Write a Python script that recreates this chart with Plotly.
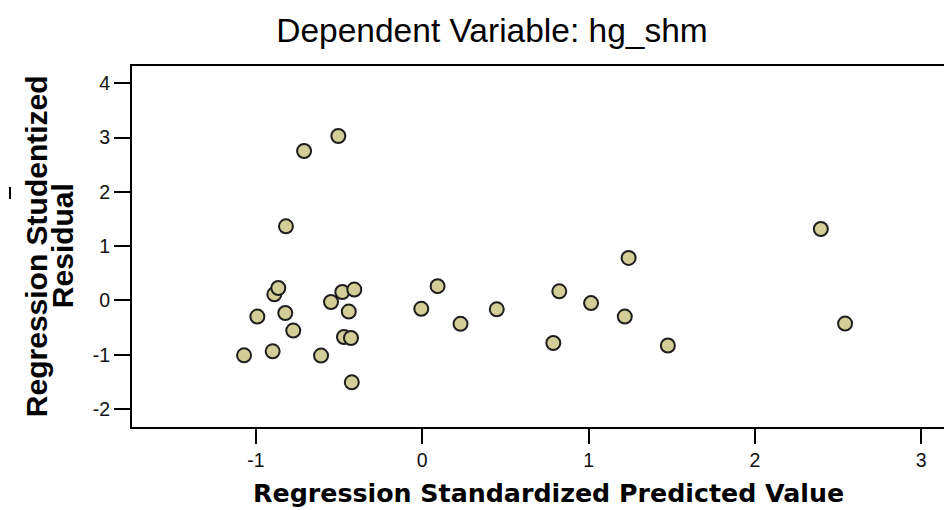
import plotly.graph_objects as go

# Regression standardized predicted values (x) and studentized residuals (y)
pred = [-1.072, -0.992, -0.900, -0.890, -0.866, -0.824, -0.776, -0.820, -0.711, -0.505,
        -0.609, -0.549, -0.481, -0.409, -0.442, -0.471, -0.429, -0.424, -0.006, 0.092,
        0.230, 0.448, 0.788, 0.824, 1.015, 1.218, 1.241, 1.477, 2.397, 2.543]
resid = [-1.011, -0.298, -0.938, 0.112, 0.228, -0.232, -0.556, 1.365, 2.752, 3.029,
         -1.017, -0.029, 0.155, 0.199, -0.206, -0.674, -0.693, -1.509, -0.155, 0.263,
         -0.431, -0.164, -0.785, 0.168, -0.050, -0.298, 0.783, -0.831, 1.315, -0.427]

x_ticks = [-1, 0, 1, 2, 3]
y_ticks = [-2, -1, 0, 1, 2, 3, 4]

title_text = "Dependent Variable: hg_shm"
x_title = "Regression Standardized Predicted Value"
y_title_lines = ["Regression Studentized", "Residual"]

W, H = 944, 502          # page body has an 8px margin
ML, MR, MT, MB = 124, 0, 58, 83.3
PW, PH = W - ML - MR, H - MT - MB

def px_x(page_x):
    return (page_x - 8 - ML) / PW

def px_y(page_y):
    return (H - MB - (page_y - 8)) / PH

fig = go.Figure()
fig.add_trace(go.Scatter(
    x=pred, y=resid, mode="markers",
    marker=dict(size=14, color="#D3CE97", line=dict(color="#1e1e1e", width=2)),
    showlegend=False, hoverinfo="x+y",
))

font_family = "Liberation Sans, Arial, sans-serif"

fig.update_layout(
    width=W, height=H,
    margin=dict(l=ML, r=MR, t=MT, b=MB, autoexpand=False),
    paper_bgcolor="white", plot_bgcolor="white",
    font=dict(family=font_family, color="#111111"),
    title=dict(text=title_text, x=(492 - 8) / W, xanchor="center", xref="container",
               y=1 - (30 - 8) / H, yref="container", yanchor="middle",
               font=dict(size=33.5, family=font_family, color="#000000")),
    xaxis=dict(
        range=[-1.746, 3.186], tickvals=x_ticks, ticktext=[str(v) for v in x_ticks],
        showgrid=False, zeroline=False, showline=True, linecolor="black", linewidth=2,
        mirror=True, ticks="outside", ticklen=15, tickwidth=2, tickcolor="black",
        tickfont=dict(size=19.5, color="#111111"), automargin=False,
    ),
    yaxis=dict(
        range=[-2.332, 4.318], tickvals=y_ticks, ticktext=[str(v) for v in y_ticks],
        showgrid=False, zeroline=False, showline=True, linecolor="black", linewidth=2,
        mirror=False, ticks="outside", ticklen=16, tickwidth=2, tickcolor="black",
        tickfont=dict(size=19.5, color="#111111"), automargin=False,
    ),
)

# axis titles
fig.add_annotation(text="<b>" + x_title + "</b>", xref="paper", yref="paper",
                   x=px_x(548), y=px_y(493.5), xanchor="center", yanchor="middle",
                   showarrow=False,
                   font=dict(size=25.3, family="DejaVu Sans, sans-serif", color="#000000"))
for line, cx in zip(y_title_lines, [36, 62]):
    fig.add_annotation(text="<b>" + line + "</b>", xref="paper", yref="paper",
                       x=px_x(cx), y=px_y(246), xanchor="center", yanchor="middle",
                       textangle=-90, showarrow=False, font=dict(size=30, color="#000000"))

# small stray tick mark left of the y title (present in the original)
fig.add_shape(type="line", xref="paper", yref="paper",
              x0=px_x(10), x1=px_x(10), y0=px_y(187), y1=px_y(199),
              line=dict(color="#000000", width=2))

fig.write_html("out.html")
